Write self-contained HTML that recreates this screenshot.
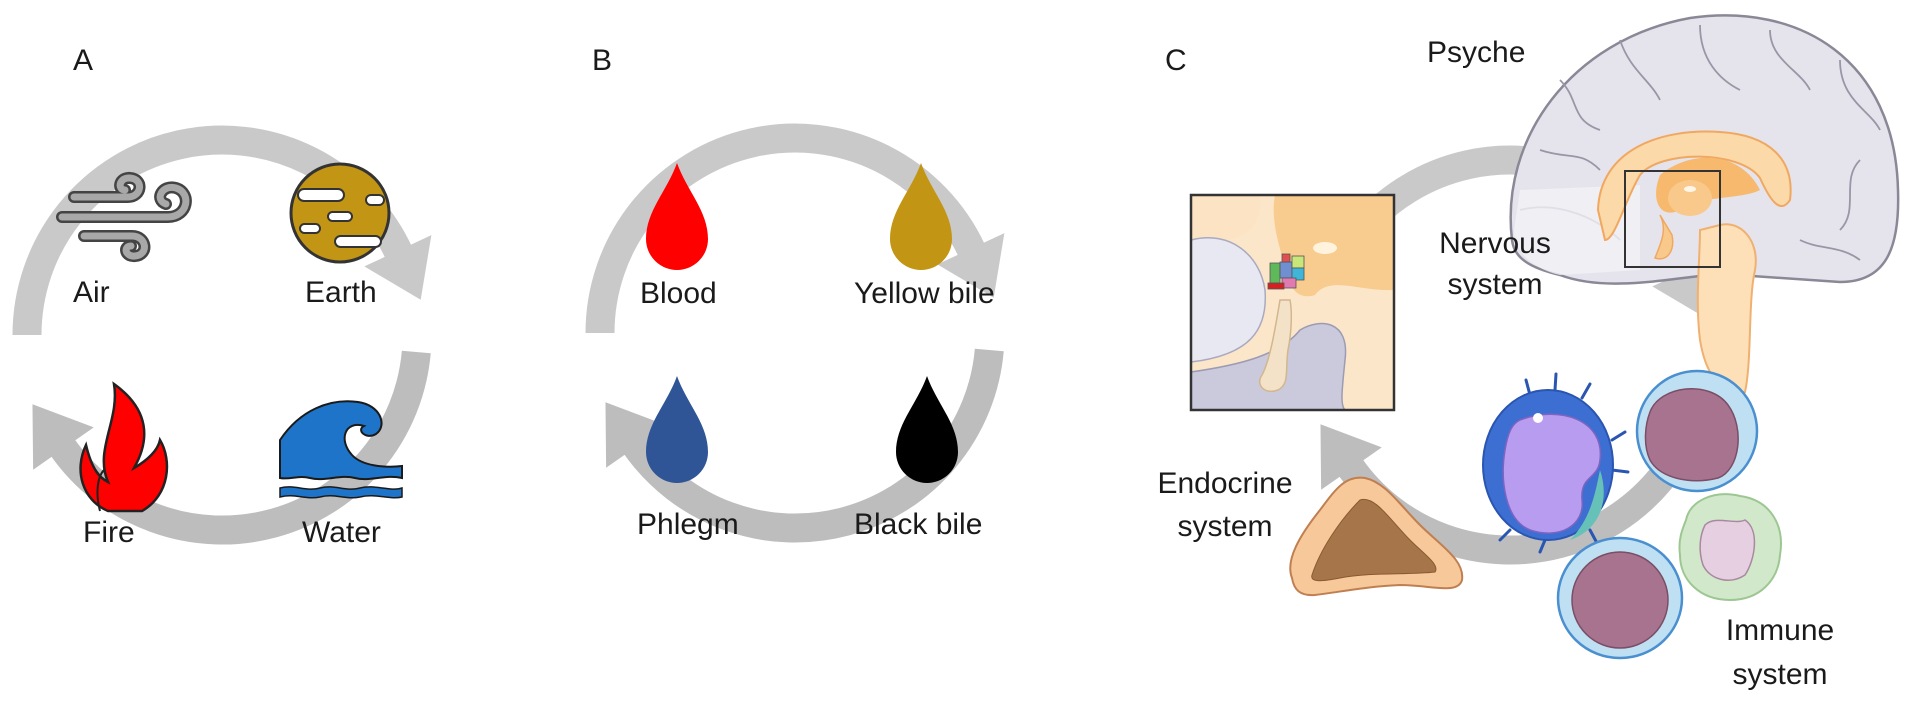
<!DOCTYPE html>
<html><head><meta charset="utf-8"><style>
html,body{margin:0;padding:0;background:#fff}
svg{display:block}
text{font-family:"Liberation Sans",sans-serif;font-size:30px;fill:#1a1a1a}
</style></head><body>
<svg width="1913" height="709" viewBox="0 0 1913 709" xmlns="http://www.w3.org/2000/svg">
<defs>
<marker id="mt" markerUnits="userSpaceOnUse" markerWidth="120" markerHeight="120" refX="0" refY="0" orient="auto" viewBox="-10 -60 120 120" overflow="visible"><path d="M-2,-37 L52,0 L-2,37 z" fill="#c9c9c9"/></marker>
<marker id="mb" markerUnits="userSpaceOnUse" markerWidth="120" markerHeight="120" refX="0" refY="0" orient="auto" viewBox="-10 -60 120 120" overflow="visible"><path d="M-2,-37 L52,0 L-2,37 z" fill="#bdbdbd"/></marker>
<g id="ring">
<path d="M27,335 A195,195 0 0 1 398.7,252.6" fill="none" stroke="#c9c9c9" stroke-width="29" marker-end="url(#mt)"/>
<path d="M416.3,352 A195,195 0 0 1 62.3,446.9" fill="none" stroke="#bdbdbd" stroke-width="29" marker-end="url(#mb)"/>
</g>
<path id="drop" d="M0,-54 C10,-26 31,-6 31,22 A31,31 0 0 1 -31,22 C-31,-6 -10,-26 0,-54 Z"/>
</defs>

<!-- Panel A -->
<use href="#ring"/>
<text x="73" y="70" style="font-size:30px">A</text>
<!-- Air -->
<g fill="none" stroke-linecap="round">
<g stroke="#444" stroke-width="12">
<path d="M74,197 L128,197 C142,197 144,179 130,178 C119,177 117,190 125,190"/>
<path d="M62,217 L168,217 C188,217 192,193 176,188 C162,184 154,200 166,204"/>
<path d="M84,236 L132,236 C147,236 149,255 135,256 C125,257 123,246 131,246"/>
</g>
<g stroke="#a8a8a8" stroke-width="7">
<path d="M74,197 L128,197 C142,197 144,179 130,178 C119,177 117,190 125,190"/>
<path d="M62,217 L168,217 C188,217 192,193 176,188 C162,184 154,200 166,204"/>
<path d="M84,236 L132,236 C147,236 149,255 135,256 C125,257 123,246 131,246"/>
</g>
</g>
<text x="73" y="302">Air</text>
<!-- Earth -->
<circle cx="340" cy="213" r="49" fill="#c39514" stroke="#333" stroke-width="3"/>
<g fill="#fff" stroke="#333" stroke-width="2">
<rect x="298" y="189" width="46" height="12" rx="6"/>
<rect x="366" y="195" width="18" height="10" rx="5"/>
<rect x="300" y="224" width="20" height="9" rx="4.5"/>
<rect x="335" y="236" width="46" height="11" rx="5.5"/>
<rect x="328" y="212" width="24" height="9" rx="4.5"/>
</g>
<text x="305" y="302">Earth</text>
<!-- Fire -->
<path d="M114,384 C150,410 150,440 134,468 C148,460 158,450 160,440 C172,460 170,495 142,511 L108,511 C82,500 74,470 86,445 C92,470 100,478 108,482 C94,450 120,420 114,384 Z" fill="#ff0000" stroke="#222" stroke-width="2.5"/>
<path d="M100,511 C95,492 98,476 104,470" fill="none" stroke="#222" stroke-width="2"/>
<text x="83" y="542">Fire</text>
<!-- Water -->
<path d="M280,440 C300,410 330,398 358,402 C380,405 388,425 376,434 C366,440 356,430 364,426 C345,420 338,440 352,455 C362,466 385,468 402,466 L402,478 C385,474 370,482 355,478 C340,474 325,482 310,478 C298,475 290,480 280,478 Z" fill="#1e74c8" stroke="#1a1a1a" stroke-width="2"/>
<path d="M280,488 C295,484 305,492 320,488 C335,484 345,492 360,488 C375,484 390,492 402,488 L402,497 C390,500 375,493 360,497 C345,500 335,493 320,497 C305,500 295,493 280,497 Z" fill="#1e74c8" stroke="#1a1a1a" stroke-width="1.5"/>
<text x="302" y="542">Water</text>

<!-- Panel B -->
<use href="#ring" transform="translate(573,-2)"/>
<text x="592" y="70">B</text>
<use href="#drop" x="677" y="217" fill="#ff0000"/>
<use href="#drop" x="921" y="217" fill="#c39514"/>
<use href="#drop" x="677" y="430" fill="#2f5597"/>
<use href="#drop" x="927" y="430" fill="#000"/>
<text x="640" y="303">Blood</text>
<text x="854" y="303">Yellow bile</text>
<text x="637" y="534">Phlegm</text>
<text x="854" y="534">Black bile</text>

<!-- Panel C -->
<use href="#ring" transform="translate(1288,20)"/>
<text x="1165" y="70">C</text>
<text x="1427" y="62">Psyche</text>
<!-- brain -->
<path d="M1512,240 C1500,140 1570,40 1690,18 C1800,2 1895,60 1898,190 C1900,250 1885,282 1840,282 L1752,276 L1700,276 C1650,282 1600,290 1560,275 C1530,268 1514,258 1512,240 Z" fill="#e5e3ec" stroke="#8a8896" stroke-width="2.5"/>
<g fill="none" stroke="#9997a5" stroke-width="1.8">
<path d="M1560,80 C1580,100 1570,120 1600,130"/><path d="M1620,40 C1630,70 1650,80 1660,100"/>
<path d="M1700,25 C1700,60 1720,80 1740,90"/><path d="M1770,30 C1770,60 1800,70 1810,90"/>
<path d="M1840,60 C1840,100 1870,110 1880,130"/><path d="M1540,150 C1570,160 1580,150 1600,170"/>
<path d="M1860,160 C1840,180 1860,210 1840,230"/><path d="M1800,240 C1820,250 1840,245 1860,260"/>
<path d="M1520,210 C1560,200 1600,220 1620,240"/>
</g>
<path d="M1520,190 L1640,185 L1640,270 L1560,275 C1530,268 1514,250 1514,230 Z" fill="#f2f1f6" opacity="0.8"/>
<path d="M1598,210 C1600,150 1660,128 1720,132 C1770,135 1795,160 1790,200 C1780,215 1770,200 1760,178 C1740,150 1660,150 1640,175 C1625,200 1615,240 1605,240 Z" fill="#fbd9a9" stroke="#f0a860" stroke-width="2"/>
<path d="M1660,175 C1690,150 1740,150 1760,190 C1740,200 1700,195 1680,210 C1660,220 1650,200 1660,175 Z" fill="#f7b96e"/>
<ellipse cx="1690" cy="198" rx="22" ry="18" fill="#f9c98b"/>
<ellipse cx="1690" cy="189" rx="6" ry="3" fill="#fff6e8"/>
<path d="M1700,230 C1700,260 1695,300 1700,340 C1705,370 1715,390 1745,392 C1752,360 1748,300 1755,270 C1760,240 1740,220 1720,225 Z" fill="#fde0b8" stroke="#f0b070" stroke-width="2"/>
<path d="M1660,215 C1668,230 1660,245 1655,258 C1668,262 1675,250 1672,235 Z" fill="#f9c98b" stroke="#f0a860" stroke-width="1.5"/>
<rect x="1625" y="171" width="95" height="96" fill="none" stroke="#333" stroke-width="2"/>
<!-- inset -->
<rect x="1191" y="195" width="203" height="215" fill="#fce6c9"/>
<path d="M1191,195 L1260,195 C1262,215 1255,232 1236,238 C1200,245 1191,238 1191,230 Z" fill="#fbe3c3"/>
<path d="M1275,195 L1394,195 L1394,290 C1360,292 1330,275 1315,295 C1300,300 1290,290 1288,275 C1280,250 1270,220 1275,195 Z" fill="#f8cb8f"/>
<ellipse cx="1325" cy="248" rx="12" ry="6" fill="#fff3de"/>
<path d="M1191,240 C1230,230 1260,255 1265,290 C1268,330 1250,355 1191,362 Z" fill="#e8e8f2" stroke="#a9a9c0" stroke-width="1.5"/>
<path d="M1191,372 C1240,365 1280,355 1300,330 C1320,318 1350,320 1345,360 C1342,390 1340,405 1345,410 L1191,410 Z" fill="#cbcadc" stroke="#9c9bb3" stroke-width="1.5"/>
<path d="M1280,300 C1275,330 1270,360 1262,375 C1255,385 1265,395 1278,390 C1290,384 1285,370 1288,350 C1292,330 1292,310 1290,300 Z" fill="#f3e2c8" stroke="#d2b68e" stroke-width="1.5"/>
<g stroke="#555" stroke-width="0.8">
<rect x="1270" y="263" width="10" height="20" fill="#5fb85a"/><rect x="1280" y="262" width="12" height="16" fill="#6f8fd0"/>
<rect x="1292" y="256" width="12" height="12" fill="#c9e67a"/><rect x="1292" y="268" width="12" height="12" fill="#3fb6d8"/>
<rect x="1282" y="278" width="14" height="10" fill="#e07ab0"/><rect x="1268" y="283" width="16" height="6" fill="#d42020"/>
<rect x="1282" y="254" width="8" height="8" fill="#e05050"/>
</g>
<rect x="1191" y="195" width="203" height="215" fill="none" stroke="#333" stroke-width="2.5"/>
<!-- gland -->
<path d="M1292,578 C1285,560 1300,535 1320,510 C1335,490 1345,475 1365,478 C1385,482 1400,505 1420,525 C1440,545 1465,560 1462,580 C1458,595 1430,585 1400,585 C1370,586 1340,592 1315,595 C1300,596 1294,590 1292,578 Z" fill="#f7c89a" stroke="#c07f50" stroke-width="2"/>
<path d="M1312,575 C1320,550 1340,520 1360,500 C1375,495 1390,520 1410,540 C1425,555 1440,565 1435,572 C1410,575 1370,572 1340,578 C1320,582 1310,582 1312,575 Z" fill="#a6764a" stroke="#8a5a30" stroke-width="1"/>
<!-- blue cell -->
<g stroke="#2a55b0" stroke-width="3" stroke-linecap="round">
<path d="M1530,395 L1526,380 M1555,390 L1556,374 M1582,398 L1590,384 M1612,440 L1625,432 M1612,470 L1628,472 M1590,530 L1598,545 M1545,540 L1540,552 M1510,530 L1500,540"/>
</g>
<ellipse cx="1548" cy="465" rx="65" ry="75" fill="#3d6fd3" stroke="#2a55b0" stroke-width="2"/>
<path d="M1520,420 C1560,405 1605,420 1600,460 C1598,480 1580,475 1582,500 C1585,525 1560,540 1530,530 C1505,520 1500,480 1505,450 C1508,432 1512,424 1520,420 Z" fill="#b79cf0" stroke="#7e64c0" stroke-width="1.5"/>
<path d="M1600,470 C1610,500 1600,530 1570,540 C1590,520 1595,495 1600,470 Z" fill="#66c2b8"/>
<circle cx="1538" cy="418" r="5" fill="#fff"/>
<!-- top right cell -->
<circle cx="1697" cy="431" r="60" fill="#bfe0f2" stroke="#4a8fcf" stroke-width="2.5"/>
<path d="M1650,412 C1660,385 1710,380 1728,405 C1745,428 1740,470 1718,478 C1690,485 1660,478 1650,460 C1643,445 1645,425 1650,412 Z" fill="#a8738e" stroke="#7a4e66" stroke-width="1.5"/>
<!-- green cell -->
<path d="M1686,520 C1690,500 1715,490 1740,496 C1770,500 1785,525 1780,555 C1778,580 1760,600 1730,600 C1700,600 1680,580 1680,555 C1678,540 1682,530 1686,520 Z" fill="#d2e8cb" stroke="#9dc792" stroke-width="2"/>
<path d="M1705,525 C1715,515 1735,525 1745,520 C1760,530 1755,560 1745,575 C1730,585 1710,580 1703,565 C1698,550 1700,535 1705,525 Z" fill="#e6cfe0" stroke="#a889a0" stroke-width="1.5"/>
<!-- bottom cell -->
<ellipse cx="1620" cy="598" rx="62" ry="60" fill="#bfe0f2" stroke="#4a8fcf" stroke-width="2.5"/>
<ellipse cx="1620" cy="600" rx="48" ry="48" fill="#a8738e" stroke="#7a4e66" stroke-width="1.5"/>
<text x="1495" y="253" text-anchor="middle">Nervous</text>
<text x="1495" y="294" text-anchor="middle">system</text>
<text x="1225" y="493" text-anchor="middle">Endocrine</text>
<text x="1225" y="536" text-anchor="middle">system</text>
<text x="1780" y="640" text-anchor="middle">Immune</text>
<text x="1780" y="684" text-anchor="middle">system</text>
</svg>
</body></html>
